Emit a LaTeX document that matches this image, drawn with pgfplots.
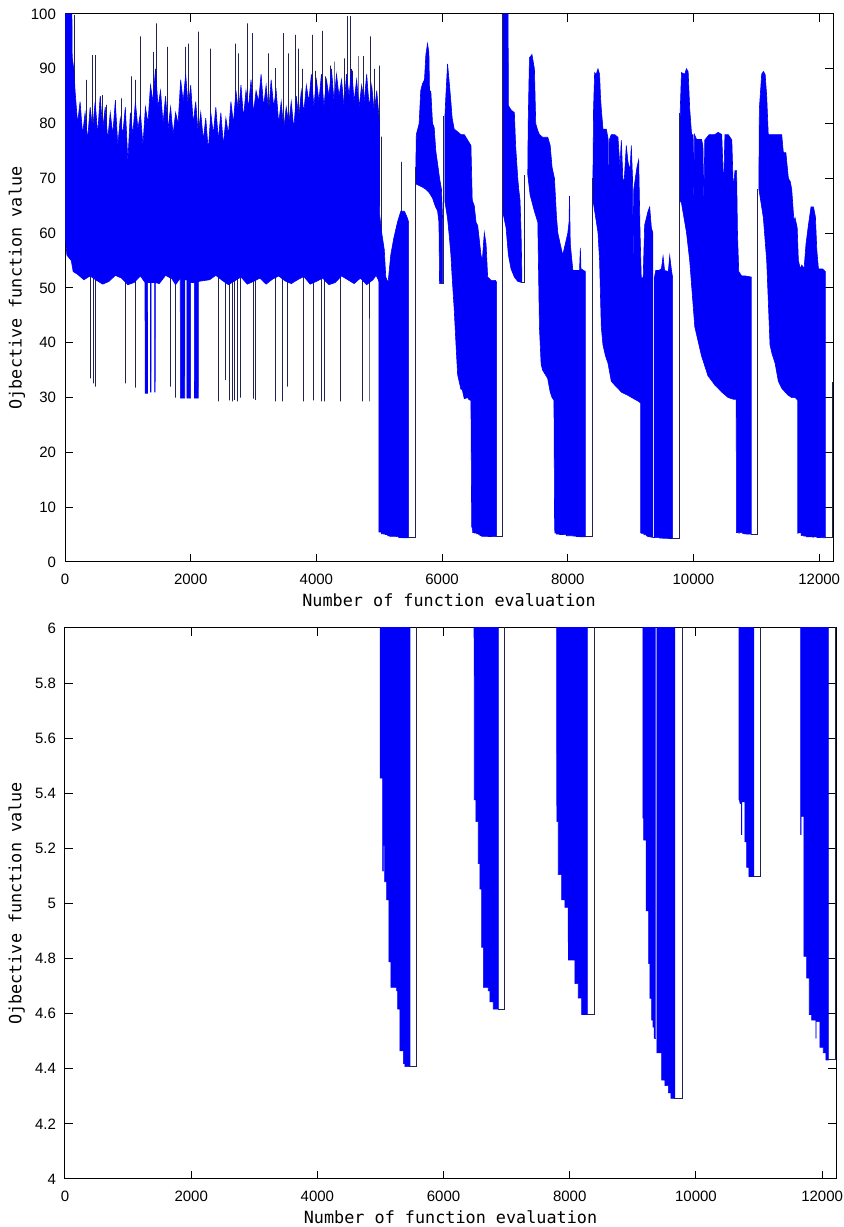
\documentclass[border=0pt]{standalone}
\usepackage{fontspec}
\setmainfont{Liberation Sans}
\setmonofont{DejaVu Sans Mono}
\usepackage{pgfplots}
\usepackage{pgfplotstable}
\pgfplotsset{compat=1.18}
\definecolor{trace}{RGB}{35,35,80}
\definecolor{mblue}{RGB}{0,0,250}

\pgfplotstableread{
x y
0 60
0 100
110 100
115 92
140 90
160 86
200 80
240 84
280 78
320 82
360 77
400 83
440 79
480 84
520 78
560 85
600 79
640 83
680 77
720 82
760 78
800 84
840 76
880 81
920 78
960 83
1000 73
1040 82
1080 78
1120 84
1160 79
1200 82
1240 76
1280 83
1320 80
1360 87
1400 84
1440 90
1480 83
1520 86
1560 80
1600 85
1640 79
1680 83
1720 78
1760 82
1800 80
1840 88
1880 84
1920 89
1960 83
2000 87
2040 80
2080 84
2120 78
2160 82
2200 77
2240 81
2280 75
2320 82
2360 78
2400 83
2440 77
2480 82
2520 76
2560 81
2600 78
2640 84
2680 80
2720 86
2760 82
2800 87
2840 81
2880 86
2920 83
2960 88
3000 82
3040 86
3080 84
3120 89
3160 83
3200 87
3240 82
3280 88
3320 83
3360 86
3400 80
3440 84
3480 79
3520 83
3560 80
3600 84
3640 79
3680 85
3720 81
3760 86
3800 82
3840 87
3880 84
3920 89
3960 83
4000 88
4040 84
4080 89
4120 83
4160 88
4200 85
4240 90
4280 84
4320 89
4360 85
4400 88
4440 83
4480 89
4520 85
4560 90
4600 84
4640 88
4680 83
4720 87
4760 84
4800 89
4840 83
4880 87
4920 82
4960 86
5005 80
5005 51
4950 52.3
4900 51.5
4800 50.6
4700 51.8
4600 50.8
4500 51.5
4400 52.2
4300 51
4200 50.6
4100 51.8
4000 51.2
3900 50.7
3800 52.1
3700 51.5
3600 50.8
3500 51.3
3400 52.2
3300 51.6
3200 50.7
3100 51.8
3000 51.2
2900 50.7
2800 52
2700 51.3
2600 50.6
2500 51.4
2400 52.3
2300 51.5
2122 51.2
2120 29.9
2060 29.9
2058 51
2000 51
1998 29.9
1940 29.9
1938 51.5
1907 51.5
1905 29.9
1836 29.9
1834 51.8
1760 50.6
1700 51.7
1600 52.3
1500 50.8
1437 51
1435 31
1428 31
1426 51
1370 51
1368 31
1360 31
1358 51
1314 51
1312 30.8
1275 30.8
1273 51
1200 52.2
1100 51
1000 50.6
900 51.8
800 52.3
700 51.2
600 50.7
500 51.4
400 52.2
300 51.5
200 52.5
130 53
100 55
30 56
}\polyA

\pgfplotstableread{
x y
4995 62
5010 63
5040 60
5080 57
5104 52
5141 51
5183 56
5230 59
5290 62
5343 64
5400 64
5440 63
5468 62
5468 4.408
5388 4.408
5388 4.419
5362 4.419
5362 4.465
5309 4.465
5309 4.617
5272 4.617
5272 4.683
5256 4.683
5256 4.696
5166 4.696
5166 4.788
5135 4.788
5135 5.013
5098 5.013
5098 5.079
5066 5.079
5066 5.21
5045 5.21
5045 5.118
5036 5.118
5036 5.455
4995 5.455
}\polyB

\pgfplotstableread{
x y
5582 69
5582 72
5590 78
5635 80
5660 86
5689 87.3
5720 88
5742 92.6
5768 94.6
5790 93
5800 86
5821 85.9
5848 80
5874 79.3
5900 75
5928 72.7
5960 70
5990 68
6010 62
6010 50.8
5960 50.8
5950 62
5928 64.1
5900 64.7
5874 65.5
5848 66.4
5795 67.4
5742 68
5689 68.4
5635 68.7
}\polyC

\pgfplotstableread{
x y
6045 65.8
6045 81.3
6060 85
6087 90.9
6110 88
6140 84
6160 81
6193 79
6247 78.5
6300 78
6353 78
6406 77
6459 76
6480 66
6512 65
6540 62
6566 61.4
6600 58
6619 56
6640 55
6672 60.1
6700 58
6725 52
6778 51.4
6850 51.4
6867 51
6867 4.617
6788 4.617
6788 4.643
6735 4.643
6735 4.683
6709 4.683
6709 4.696
6630 4.696
6630 4.841
6603 4.841
6603 5.052
6577 5.052
6577 5.145
6550 5.145
6550 5.297
6513 5.297
6513 5.376
6487 5.376
6487 5.8
6471 6.5
6459 29.5
6430 29.6
6406 30
6353 29.8
6320 31.5
6300 31.5
6270 33
6247 34.2
6220 40
6193 46.1
6160 52
6140 56.1
6110 60
6087 62.7
}\polyD

\pgfplotstableread{
x y
6964 64
6964 100
7050 100
7055 83.3
7097 82.5
7150 82
7170 76
7204 70
7220 68
7240 66
7257 60
7270 52
7270 51
7204 51.2
7150 52
7097 53.5
7055 56
7018 61
}\polyE

\pgfplotstableread{
x y
7363 70.7
7370 80
7390 92
7430 92.6
7469 90
7490 80
7523 78.7
7549 78
7600 77.5
7682 77.5
7720 76
7750 72
7788 70
7820 63
7842 60
7880 58
7920 56
7960 58
8000 60
8020 62
8028 66.8
8040 58
8081 53.2
8187 53.2
8200 57.3
8210 53.5
8280 53
8280 4.597
8188 4.597
8188 4.657
8135 4.657
8135 4.709
8083 4.709
8083 4.795
7980 4.795
7980 4.861
7974 4.861
7974 4.986
7924 4.986
7924 5.013
7871 5.013
7871 5.105
7818 5.105
7818 5.297
7795 5.297
7790 6.5
7780 29.5
7750 30
7720 31
7680 33.5
7600 35
7576 36.1
7549 42.8
7523 62
7469 64
7400 67
}\polyF

\pgfplotstableread{
x y
8400 66.1
8400 70
8410 82.7
8427 89.3
8453 89
8480 90
8506 89
8520 85
8533 82.7
8560 79
8613 79
8639 77.4
8650 64
8660 77
8692 78
8745 78
8798 77.5
8830 72
8852 77
8878 69.4
8900 70
8931 76
8958 73
8990 71.4
9011 76
9030 70
9040 52
9050 68
9100 72
9128 73.4
9150 60
9170 51.6
9200 52
9223 61.5
9277 64
9303 64.8
9330 61
9355 60
9355 4.511
9340 4.511
9340 4.551
9320 4.551
9320 4.577
9297 4.577
9297 4.656
9270 4.656
9270 4.782
9252 4.782
9252 4.973
9210 4.973
9210 5.23
9170 5.23
9170 5.31
9160 5.31
9160 29.0
9128 29.3
9064 29.7
8958 30.4
8852 31.0
8798 31.7
8745 32.3
8692 33.0
8639 36.3
8600 37.6
8560 39.6
8533 42.9
8506 55
8480 60.2
8427 64.1
}\polyG

\pgfplotstableread{
x y
9380 4.458
9380 52
9400 53.2
9450 53.2
9490 53.5
9516 55.8
9540 53.2
9600 53
9622 55.9
9650 53.2
9667 52
9667 4.293
9604 4.293
9604 4.313
9562 4.313
9562 4.339
9509 4.339
9509 4.359
9456 4.359
9456 4.458
}\polyH

\pgfplotstableread{
x y
9782 66
9790 82.7
9809 89.3
9860 89
9888 90
9915 89.5
9940 82.7
9970 78
9995 78
10005 62
10015 78
10050 77.1
10128 77.1
10150 76
10165 65
10180 77
10250 78
10340 78
10393 78.4
10450 78
10480 68
10500 78
10553 78
10610 77
10633 68
10660 71.4
10686 71.4
10700 60
10720 53
10766 52.2
10819 52.2
10919 52
10919 5.098
10840 5.098
10840 5.131
10803 5.131
10803 5.224
10777 5.224
10777 5.369
10728 5.369
10728 5.25
10722 5.25
10722 5.363
10700 5.363
10690 5.376
10683 5.376
10683 6.5
10680 29.7
10633 29.7
10553 30
10450 31
10340 32.3
10230 34
10128 37.6
10021 42.9
9940 55
9888 60.2
9809 65.5
}\polyI

\pgfplotstableread{
x y
11040 68.1
11048 82.7
11085 89
11112 89.5
11140 89
11165 85
11190 78
11218 78
11300 78
11404 78
11430 74.7
11470 74.7
11510 70
11540 69.4
11563 68
11600 62
11616 62.8
11650 61
11669 55
11700 53.5
11723 54.2
11760 53.5
11790 58
11829 61.5
11870 64.8
11909 64.8
11940 63
11962 57
11988 53.5
12050 53.5
12098 53
12098 4.432
12061 4.432
12061 4.458
12018 4.458
12018 4.478
11965 4.478
11965 4.571
11906 4.571
11906 4.511
11900 4.511
11900 4.577
11833 4.577
11833 4.597
11796 4.597
11796 4.729
11754 4.729
11754 4.808
11712 4.808
11712 5.316
11666 5.316
11666 5.25
11659 5.25
11659 29.5
11620 30
11563 30
11500 30.5
11404 31.7
11350 33
11298 36.3
11250 38
11218 39.6
11165 55
11112 62.8
}\polyJ

\pgfplotstableread{
x y
144 65
144 99.8
144 65
335 65
335 88.0
335 65
431 65
431 92.5
431 65
478 65
478 92.5
478 65
558 65
558 84.9
558 65
595 65
595 85.2
595 65
654 65
654 83.4
654 65
797 65
797 84.3
797 65
904 65
904 84.6
904 65
1063 65
1063 88.6
1063 65
1116 65
1116 88.0
1116 65
1196 65
1196 95.9
1196 65
1409 65
1409 93.1
1409 65
1462 65
1462 98.3
1462 65
1622 65
1622 94.0
1622 65
1914 65
1914 94.0
1914 65
1967 65
1967 94.6
1967 65
2127 65
2127 96.8
2127 65
2313 65
2313 93.7
2313 65
2711 65
2711 94.6
2711 65
2764 65
2764 92.8
2764 65
2897 65
2897 94.0
2897 65
2908 65
2908 98.3
2908 65
2977 65
2977 96.5
2977 65
3243 65
3243 92.8
3243 65
3349 65
3349 90.1
3349 65
3482 65
3482 96.5
3482 65
3562 65
3562 92.8
3562 65
3668 65
3668 96.2
3668 65
3721 65
3721 93.7
3721 65
3775 65
3775 90.0
3775 65
3934 65
3934 96.2
3934 65
3987 65
3987 89.6
3987 65
4094 65
4094 96.9
4094 65
4147 65
4147 88.6
4147 65
4216 65
4216 90.6
4216 65
4280 65
4280 91.3
4280 65
4439 65
4439 91.9
4439 65
4493 65
4493 99.6
4493 65
4545 65
4545 99.6
4545 65
4572 65
4572 89.6
4572 65
4662 65
4662 92.3
4662 65
4748 65
4748 92.3
4748 65
4864 65
4864 95.9
4864 65
4928 65
4928 90.0
4928 65
4997 65
4997 90.6
4997 65
nan nan
399 60
399 33.5
399 60
452 60
452 32.6
452 60
478 60
478 32.0
478 60
957 60
957 32.6
957 60
1116 60
1116 31.8
1116 60
1675 60
1675 32.0
1675 60
1754 60
1754 30.0
1754 60
2440 60
2440 29.3
2440 60
2552 60
2552 33.2
2552 60
2616 60
2616 29.5
2616 60
2658 60
2658 29.3
2658 60
2695 60
2695 29.6
2695 60
2738 60
2738 29.3
2738 60
2791 60
2791 30.0
2791 60
2994 60
2994 29.8
2994 60
3030 60
3030 29.6
3030 60
3349 60
3349 29.3
3349 60
3466 60
3466 29.3
3466 60
3535 60
3535 32.0
3535 60
3801 60
3801 29.3
3801 60
3950 60
3950 29.5
3950 60
4078 60
4078 29.3
4078 60
4131 60
4131 29.3
4131 60
4375 60
4375 29.3
4375 60
4732 60
4732 29.3
4732 60
4837 60
4837 29.3
4837 60
nan nan
5030 30
5030 77.6
5030 30
5354 30
5354 73.0
5354 30
}\spikes

\pgfplotstableread{
x y
5460 4.408
5573 4.408
5573 72
nan nan
5990 50.8
6024 50.8
6024 81.3
nan nan
6860 4.617
6960 4.617
6960 100
nan nan
7257 51
7310 51
7310 70.7
nan nan
8275 4.597
8389 4.597
8389 70
nan nan
9350 4.511
9367 4.511
nan nan
9660 4.293
9783 4.293
9783 82
nan nan
10915 5.098
11025 5.098
11025 68
nan nan
12095 4.432
12212 4.432
12212 32.9
}\traceline

\newcommand\drawdata{%
  \addplot[trace, line width=0.4pt, unbounded coords=jump] table {\spikes};
  \addplot[draw=mblue, fill=mblue, line width=0.3pt] table {\polyA} -- cycle;
  \addplot[draw=mblue, fill=mblue, line width=0.3pt] table {\polyB} -- cycle;
  \addplot[draw=mblue, fill=mblue, line width=0.3pt] table {\polyC} -- cycle;
  \addplot[draw=mblue, fill=mblue, line width=0.3pt] table {\polyD} -- cycle;
  \addplot[draw=mblue, fill=mblue, line width=0.3pt] table {\polyE} -- cycle;
  \addplot[draw=mblue, fill=mblue, line width=0.3pt] table {\polyF} -- cycle;
  \addplot[draw=mblue, fill=mblue, line width=0.3pt] table {\polyG} -- cycle;
  \addplot[draw=mblue, fill=mblue, line width=0.3pt] table {\polyH} -- cycle;
  \addplot[draw=mblue, fill=mblue, line width=0.3pt] table {\polyI} -- cycle;
  \addplot[draw=mblue, fill=mblue, line width=0.3pt] table {\polyJ} -- cycle;
  \addplot[trace, line width=0.5pt, unbounded coords=jump] table {\traceline};
}

\pgfplotsset{
  myax/.style={
    scale only axis,
    xmin=0, xmax=12220,
    axis line style={line width=0.5pt},
    every tick/.style={black, line width=0.5pt},
    major tick length=3.8pt,
    tick align=inside,
    xtick={0,2000,4000,6000,8000,10000,12000},
    scaled x ticks=false,
    xticklabel style={/pgf/number format/1000 sep={}, yshift=-2.3pt},
    yticklabel style={xshift=-1pt},
    ticklabel style={font=\fontsize{7.5}{9}\selectfont},
    /pgf/number format/assume math mode=true,
    label style={font=\ttfamily\fontsize{8.4}{10}\selectfont},
    xlabel={Number of function evaluation},
    ylabel={Ojbective function value},
    x label style={at={(axis description cs:0.5,-0.069)}, anchor=center},
    y label style={at={(axis description cs:-0.0625,0.5)}, anchor=center},
  }
}

\begin{document}
\begin{tikzpicture}
\useasboundingbox (0,0) rectangle (421.5pt,613.5pt);
\begin{axis}[myax, at={(32.5pt,332.5pt)}, anchor=south west,
  width=384pt, height=274pt,
  ymin=0, ymax=100, ytick={0,10,...,100}]
\drawdata
\end{axis}
\begin{axis}[myax, at={(32.5pt,24pt)}, anchor=south west,
  width=385.5pt, height=275.5pt,
  ymin=4, ymax=6, ytick={4,4.2,4.4,4.6,4.8,5,5.2,5.4,5.6,5.8,6},
  yticklabel style={/pgf/number format/fixed, /pgf/number format/precision=1}]
\drawdata
\end{axis}
\end{tikzpicture}
\end{document}
